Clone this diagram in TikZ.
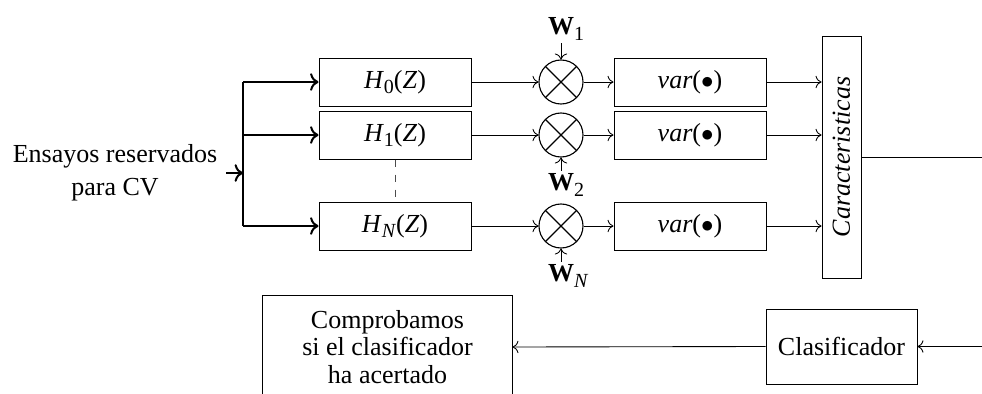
\documentclass[tikz,border=0pt]{standalone}
\usepackage{fontspec}
\setmainfont{Liberation Serif}
\usetikzlibrary{arrows.meta}
% lowered subscript set in text font
\newcommand{\lsub}[1]{\raisebox{-0.45ex}{\footnotesize #1}}
\begin{document}
\begin{tikzpicture}[x=0.4pt,y=-0.4pt,
  every node/.style={font=\fontsize{10.4}{12}\selectfont},
  filt/.style={draw, line width=0.4pt, minimum width=60.8pt, minimum height=19.2pt, inner sep=0pt},
  mult/.style={draw, circle, line width=0.45pt, minimum size=17.6pt, inner sep=0pt,
    path picture={\draw[line width=0.45pt] (path picture bounding box.north west) -- (path picture bounding box.south east)
                        (path picture bounding box.north east) -- (path picture bounding box.south west);}},
  wlab/.style={inner sep=1pt},
  sig/.style={->, line width=0.35pt},
  bus/.style={line width=0.8pt}]
\useasboundingbox (0,0) rectangle (982,394);
\clip (0,0) rectangle (982,394);

% input
\node[align=center, font=\fontsize{10.4}{13.2}\selectfont] (in) at (115,173) {Ensayos reservados\\para CV};
\coordinate (bus) at (243,173);
\coordinate (bt) at (243,82);
\coordinate (bb) at (243,226);

% filter bank
\node[filt] (h0) at (395,82)  {\textit{H}\lsub{0}(\textit{Z})};
\node[filt] (h1) at (395,135) {\textit{H}\lsub{1}(\textit{Z})};
\node[filt] (hN) at (395,226) {\textit{H}\lsub{\textit{N}}(\textit{Z})};

% multipliers
\node[mult] (m0) at (561,82)  {};
\node[mult] (m1) at (561,135) {};
\node[mult] (mN) at (561,226) {};

\node[wlab] (w1) at (561,29)  {\textbf{W}\rlap{\lsub{1}}};
\node[wlab] (w2) at (561,185) {\textbf{W}\rlap{\lsub{2}}};
\node[wlab] (wN) at (561,276) {\textbf{W}\rlap{\lsub{\textit{N}}}};

% variance blocks
\node[filt] (v0) at (690,82)  {\textit{var}($\bullet$)};
\node[filt] (v1) at (690,135) {\textit{var}($\bullet$)};
\node[filt] (vN) at (690,226) {\textit{var}($\bullet$)};

% feature vector
\node[draw, line width=0.4pt, minimum width=15.6pt, minimum height=96.8pt, inner sep=1pt] (car) at (841.5,157)
  {\rotatebox{90}{\textit{Caracteristicas}}};

% classifier and check
\node[draw, line width=0.4pt, minimum width=60.4pt, minimum height=30pt] (clas) at (841.5,346.5) {Clasificador};
\node[draw, line width=0.4pt, align=center, minimum width=99.6pt, minimum height=41.6pt,
  font=\fontsize{10.4}{11}\selectfont] (chk) at (387.5,347)
  {Comprobamos\\si el clasificador\\ha acertado};
\coordinate (rt) at (1000,157);

% connections
\draw[bus,->] (in.east |- bus) -- (bus);
\draw[bus] (bt) -- (bb);
\draw[bus,->] (bt) -- (h0.west);
\draw[bus,->] (bt |- h1.west) -- (h1.west);
\draw[bus,->] (bb) -- (hN.west);
\draw[dashed, line width=0.4pt, black!70] (h1.south) -- (hN.north);

\foreach \i in {0,1,N}{
  \draw[sig] (h\i.east) -- (m\i.west);
  \draw[sig] (m\i.east) -- (v\i.west);
  \draw[sig] (v\i.east) -- (v\i.east -| car.west);
}
\draw[sig] (w1.south) -- (m0.north);
\draw[sig] (w2.north) -- (m1.south);
\draw[sig] (wN.north) -- (mN.south);

\draw[sig] (car.east) -- (rt) |- (clas.east);
\draw[sig] (clas.west) -- (chk.east);
\end{tikzpicture}
\end{document}
